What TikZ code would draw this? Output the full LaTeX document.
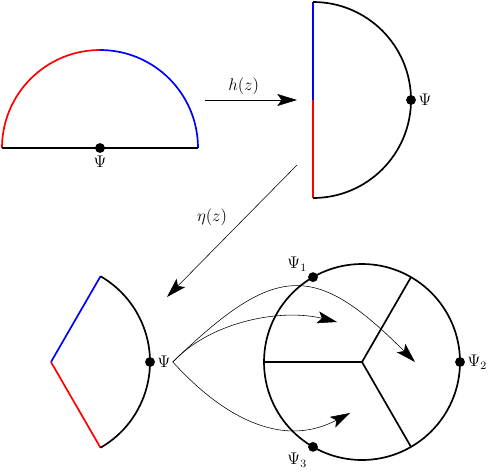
\documentclass[tikz,border=0pt]{standalone}
\usepackage{amsmath}
\usetikzlibrary{arrows.meta}
\tikzset{
  bd/.style={line width=1.2pt},
  dot/.style={circle,fill=black,inner sep=0pt,minimum size=7pt},
  lab/.style={inner sep=1.5pt},
  map/.style={-{Stealth[length=14pt,width=8.5pt,inset=3pt]}},
}
\begin{document}
\begin{tikzpicture}[scale=0.5,font=\large]
    \useasboundingbox (0,0) rectangle (24.55,23.7);
    % half plane
    \coordinate (o) at (5,16.3);
    \draw[bd,red] (o) ++(180:4.9) arc (180:90:4.9);
    \draw[bd,blue] (o) ++(90:4.9) arc (90:0:4.9);
    \draw[bd] (0.1,16.3) -- (9.9,16.3);
    \node[dot] (p0) at (o) {};
    \node[lab,anchor=north] (l0) at (p0.south) {$\Psi$};
    % half disk
    \coordinate (h) at (15.65,18.7);
    \draw[bd,blue] (h) -- ++(0,4.9);
    \draw[bd,red] (h) -- ++(0,-4.9);
    \draw[bd] (h) ++(90:4.9) arc (90:-90:4.9);
    \node[dot] (p1) at ([shift={(0:4.9)}]h) {};
    \node[lab,anchor=west] (l1) at (p1.east) {$\Psi$};
    % maps
    \coordinate (hs) at (10.25,18.7);
    \coordinate (he) at (14.85,18.7);
    \draw[map] (hs) -- (he) node[pos=0.42,above] (hz) {$h(z)$};
    \coordinate (es) at (14.85,15.45);
    \coordinate (ee) at (8.35,8.85);
    \draw[map] (es) -- (ee) node[midway,above left] (ez) {$\eta(z)$};
    % sector
    \coordinate (v) at (2.55,5.6);
    \draw[bd,blue] (v) -- ++(60:4.95);
    \draw[bd,red] (v) -- ++(-60:4.95);
    \draw[bd] (v) ++(-60:4.95) arc (-60:60:4.95);
    \node[dot] (p2) at ([shift={(0:4.95)}]v) {};
    \node[lab,anchor=west] (l2) at (p2.east) {$\Psi$};
    % disk cut in three
    \coordinate (c) at (18.1,5.6);
    \draw[bd] (c) circle (4.9);
    \foreach \a in {180,60,-60} % spokes
        \draw[bd] (c) -- ++(\a:4.9);
    \foreach \a/\n in {120/1,0/2,-120/3} % the three points
        \node[dot] (d\n) at ([shift={(\a:4.9)}]c) {};
    \node[lab,anchor=south east] (m1) at (d1.north west) {$\Psi_1$};
    \node[lab,anchor=west] (m2) at (d2.east) {$\Psi_2$};
    \node[lab,anchor=north east] (m3) at (d3.south west) {$\Psi_3$};
    % copies of the sector
    \coordinate (t1) at (20.75,5.6);
    \coordinate (t2) at (16.85,7.6);
    \coordinate (t3) at (17.5,3.05);
    \draw[map] (l2.east) .. controls (13.8,10.6) and (15.75,10.6) .. (t1);
    \draw[map] (l2.east) .. controls (10.5,7.6) and (14,8.3) .. (t2);
    \draw[map] (l2.east) .. controls (11,3) and (14,1.2) .. (t3);
\end{tikzpicture}
\end{document}
